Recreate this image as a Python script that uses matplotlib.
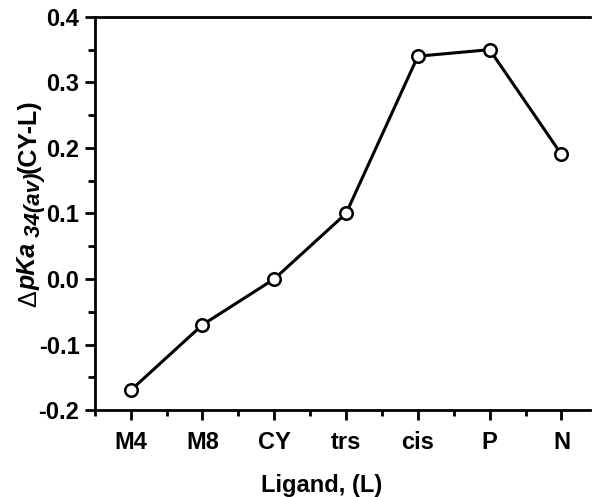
import matplotlib
matplotlib.use("Agg")
import matplotlib.pyplot as plt
from matplotlib.ticker import MultipleLocator

# ligand series and the pKa shift relative to CY
ligands = ["M4", "M8", "CY", "trs", "cis", "P", "N"]
delta_pka = [-0.17, -0.07, 0.00, 0.10, 0.34, 0.35, 0.19]

plt.rcParams["font.family"] = "Liberation Sans"
plt.rcParams["font.weight"] = "bold"

fig = plt.figure(figsize=(5.92, 4.97), dpi=100)
ax = fig.add_axes([0.160, 0.175, 0.837, 0.791])

x = list(range(len(ligands)))
ax.plot(x, delta_pka, color="black", lw=2.2, marker="o", ms=9,
        mfc="white", mec="black", mew=1.8, zorder=3)

ax.set_xlim(-0.5, 6.4)
ax.set_ylim(-0.2, 0.4)
ax.set_xticks(x)
ax.set_xticklabels(ligands)
ax.xaxis.set_minor_locator(MultipleLocator(0.5))
ax.yaxis.set_major_locator(MultipleLocator(0.1))
ax.yaxis.set_minor_locator(MultipleLocator(0.05))
ax.yaxis.set_major_formatter(plt.FormatStrFormatter("%.1f"))

ax.tick_params(axis="both", which="major", direction="out", length=7,
               width=2, labelsize=17)
ax.tick_params(axis="x", which="minor", direction="out", length=4, width=2)
ax.tick_params(axis="y", which="minor", direction="out", length=5, width=2)
ax.tick_params(axis="x", which="major", pad=8)
ax.tick_params(axis="y", which="major", pad=4)
ax.tick_params(top=False, right=False, which="both")

for side in ["left", "bottom", "top"]:
    ax.spines[side].set_linewidth(2)
ax.spines["right"].set_visible(False)

fig.text(0.544, 0.010, "Ligand, (L)", fontsize=17, fontweight="bold",
         ha="center", va="baseline")

# y label built piece by piece so the subscript stays near full size
fig.canvas.draw()
renderer = fig.canvas.get_renderer()
parts = [
    ("\u0394", dict(fontweight="normal"), 0.0, 18),
    ("pKa", dict(style="italic"), 0.0, 18),
    (" 34(av)", dict(style="italic"), 4.0, 16),
    ("(CY-L)", dict(), 0.0, 18),
]
base_x = 36.0
y_px = 497 - 307.0
for text, kw, drop, size in parts:
    t = fig.text((base_x + drop) / 592, y_px / 497, text, rotation=90,
                 rotation_mode="anchor", ha="left", va="baseline",
                 fontsize=size, fontweight=kw.get("fontweight", "bold"),
                 style=kw.get("style", "normal"))
    bb = t.get_window_extent(renderer)
    y_px += bb.height

fig.savefig("out.png", dpi=100)
